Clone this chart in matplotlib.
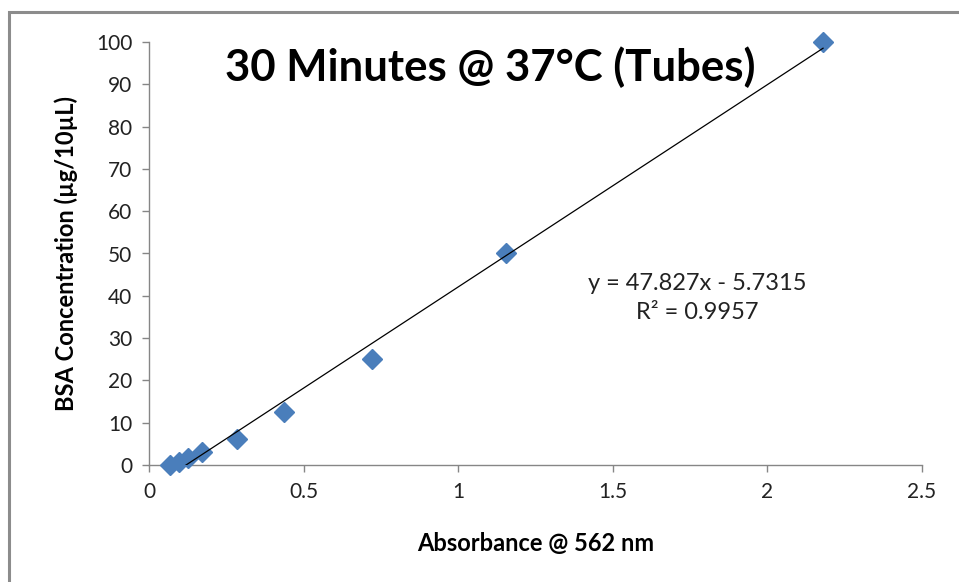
import numpy as np
import matplotlib
matplotlib.use("Agg")
import matplotlib.pyplot as plt
from matplotlib.patches import Rectangle

plt.rcParams["font.family"] = ["Lato", "DejaVu Sans"]

# absorbance readings and the BSA standards they belong to
absorbance = [0.068, 0.098, 0.125, 0.172, 0.285, 0.437, 0.72, 1.155, 2.18]
bsa_conc = [0, 0.78, 1.56, 3.125, 6.25, 12.5, 25, 50, 100]

slope, intercept = 47.827, -5.7315
x_ticks = [0, 0.5, 1, 1.5, 2, 2.5]
y_ticks = list(range(0, 101, 10))

fig = plt.figure(figsize=(9.59, 5.82), dpi=100)
# chart-area border (cropped at right/bottom)
fig.patches.append(Rectangle((9 / 959, -0.1), 1.2, (582 - 12) / 582 + 0.1,
                             transform=fig.transFigure, fill=False,
                             edgecolor="#8c8c8c", lw=2.2))

ax = fig.add_axes([149 / 959, 117 / 582, 773 / 959, 423 / 582])
ax.plot(absorbance, bsa_conc, "D", color="#4a7ebb", ms=10, mec="#4a7ebb",
        zorder=3, clip_on=False)
xs = np.array([min(absorbance), max(absorbance)])
ax.plot(xs, slope * xs + intercept, color="black", lw=0.9, zorder=4)

ax.set_xlim(0, 2.5)
ax.set_ylim(0, 100)
ax.set_xticks(x_ticks)
ax.set_xticklabels(["0", "0.5", "1", "1.5", "2", "2.5"])
ax.set_yticks(y_ticks)
for s in ["top", "right"]:
    ax.spines[s].set_visible(False)
for s in ["left", "bottom"]:
    ax.spines[s].set_color("#868686")
    ax.spines[s].set_linewidth(1.0)
ax.tick_params(direction="out", length=5, width=1.0, color="#868686",
               labelsize=15, labelcolor="#222222", pad=7)

ax.set_xlabel("Absorbance @ 562 nm", fontsize=17, fontweight="bold",
              labelpad=22)
ax.set_ylabel("BSA Concentration (\u00b5g/10\u00b5L)", fontsize=17,
              fontweight="bold", labelpad=13)

ax.text(0.441, 0.94, "30 Minutes @ 37\u00b0C (Tubes)", transform=ax.transAxes,
        ha="center", va="center", fontsize=31.5, fontweight="bold")
ax.text(0.709, 0.395, "y = 47.827x - 5.7315\nR\u00b2 = 0.9957",
        transform=ax.transAxes, ha="center", va="center", fontsize=17,
        color="#222222", linespacing=1.5)

fig.savefig("out.png", dpi=100)
